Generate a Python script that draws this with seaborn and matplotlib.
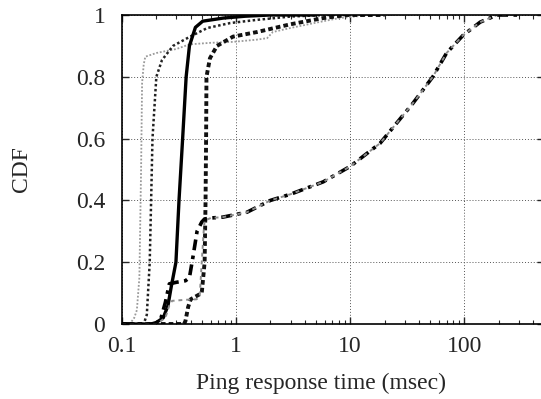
import numpy as np
import pandas as pd
import matplotlib
matplotlib.use("Agg")
import matplotlib.pyplot as plt
import seaborn as sns

# CDF curves (x in msec, y = CDF)
x_a = [0.1, 0.117, 0.128, 0.135, 0.142, 0.147, 0.15, 0.155, 0.16, 0.2, 0.3, 0.39, 0.6, 0.94, 1.5, 1.87, 2.1, 3.0, 5, 8, 15, 30]
y_a = [0, 0, 0.02, 0.045, 0.15, 0.5, 0.78, 0.84, 0.865, 0.877, 0.89, 0.905, 0.91, 0.913, 0.92, 0.925, 0.945, 0.958, 0.975, 0.99, 1.0, 1.0]

x_b = [0.1, 0.155, 0.165, 0.175, 0.18, 0.185, 0.2, 0.224, 0.28, 0.395, 0.56, 0.89, 1.5, 3, 6, 10]
y_b = [0, 0, 0.03, 0.2, 0.4, 0.6, 0.8, 0.854, 0.90, 0.93, 0.958, 0.974, 0.984, 0.995, 1.0, 1.0]

x_c = [0.1, 0.18, 0.2, 0.23, 0.253, 0.27, 0.297, 0.316, 0.34, 0.365, 0.39, 0.44, 0.51, 0.77, 1.2, 2, 5]
y_c = [0, 0, 0.005, 0.02, 0.06, 0.12, 0.2, 0.4, 0.6, 0.8, 0.9, 0.96, 0.98, 0.99, 0.996, 1.0, 1.0]

x_d = [0.1, 0.35, 0.36, 0.38, 0.4, 0.5, 0.53, 0.54, 0.546, 0.55, 0.59, 0.68, 0.94, 1.53, 3.0, 5.8, 9.4, 20]
y_d = [0, 0, 0.01, 0.055, 0.08, 0.1, 0.2, 0.4, 0.6, 0.8, 0.86, 0.90, 0.93, 0.945, 0.97, 0.99, 1.0, 1.0]

tail_x = [0.6, 0.77, 1.25, 2.0, 3.0, 5.8, 10, 18.3, 35.6, 53, 70, 98, 138, 194, 300]
tail_y = [0.343, 0.346, 0.362, 0.40, 0.42, 0.46, 0.51, 0.585, 0.715, 0.80, 0.877, 0.935, 0.977, 1.0, 1.0]

x_e = [0.1, 0.2, 0.22, 0.24, 0.26, 0.3, 0.36, 0.39, 0.42, 0.455, 0.5, 0.53] + tail_x
y_e = [0, 0, 0.02, 0.07, 0.13, 0.135, 0.14, 0.15, 0.22, 0.30, 0.33, 0.34] + tail_y

x_f = [0.1, 0.2, 0.24, 0.26, 0.275, 0.35, 0.45, 0.48, 0.5, 0.52, 0.53] + tail_x
y_f = [0, 0, 0.02, 0.06, 0.075, 0.078, 0.08, 0.09, 0.2, 0.3, 0.335] + tail_y

styles = [
    (x_a, y_a, "#9a9a9a", 1.3, (0, (1, 1))),
    (x_b, y_b, "#222222", 1.8, (0, (1, 1))),
    (x_c, y_c, "#000000", 2.4, "-"),
    (x_d, y_d, "#111111", 2.8, (0, (1.2, 0.8))),
    (x_e, y_e, "#000000", 2.6, (0, (3, 1.5, 1, 1.5))),
    (x_f, y_f, "#8c8c8c", 1.4, (0, (2, 2))),
]

sns.set_style("ticks")
plt.rcParams["font.family"] = ["Liberation Serif", "DejaVu Serif"]

fig = plt.figure(figsize=(5.41, 3.99), dpi=100)
ax = fig.add_axes([122 / 541, 1 - 324 / 399, (544 - 122) / 541, (324 - 15) / 399])

for xs, ys, col, lw, ls in styles:
    df = pd.DataFrame({"x": xs, "y": ys})
    sns.lineplot(data=df, x="x", y="y", ax=ax, color=col, linewidth=lw,
                 linestyle=ls, estimator=None, sort=False)

ax.set_xscale("log")
ax.set_xlim(0.1, 500)
ax.set_ylim(0, 1)
ax.set_xticks([0.1, 1, 10, 100])
ax.set_xticklabels(["0.1", "1", "10", "100"])
ax.set_yticks([0, 0.2, 0.4, 0.6, 0.8, 1])
ax.set_yticklabels(["0", "0.2", "0.4", "0.6", "0.8", "1"])
ax.grid(True, which="major", color="#555555", linestyle=(0, (1, 2)), linewidth=0.7)
ax.tick_params(which="both", direction="in", top=True, right=True, labelsize=17)
ax.tick_params(which="major", length=5, width=1)
ax.tick_params(axis="y", which="major", pad=12)
ax.tick_params(axis="x", which="major", pad=9)
ax.tick_params(which="minor", length=3, width=0.8)
for s in ax.spines.values():
    s.set_linewidth(1.2)
    s.set_color("black")

ax.set_xlabel("Ping response time (msec)", fontsize=17)
ax.set_ylabel("CDF", fontsize=17)
ax.xaxis.set_label_coords((321 - 122) / 422, -(383 - 324) / 309, transform=ax.transAxes)
ax.yaxis.set_label_coords(-(122 - 22) / 422, 0.5, transform=ax.transAxes)
ax.xaxis.label.set_va("center")
ax.yaxis.label.set_va("center")

fig.savefig("out.png", dpi=100)
